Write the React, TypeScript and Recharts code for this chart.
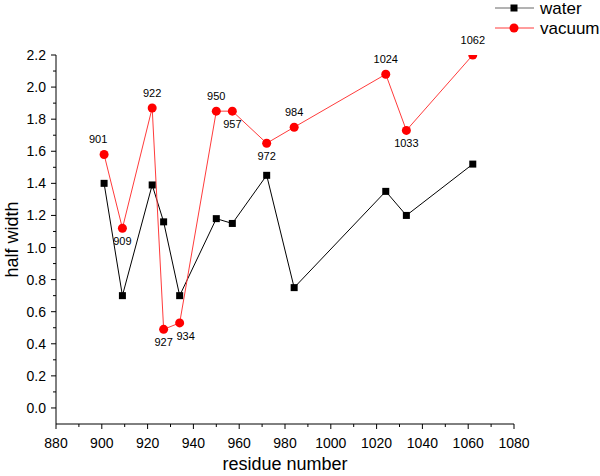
import { LabelList, Line, LineChart, XAxis, YAxis } from "recharts";

const residues = [901, 909, 922, 927, 934, 950, 957, 972, 984, 1024, 1033, 1062];
const water = [1.4, 0.7, 1.39, 1.16, 0.7, 1.18, 1.15, 1.45, 0.75, 1.35, 1.2, 1.52];
const vacuum = [1.58, 1.12, 1.87, 0.49, 0.53, 1.85, 1.85, 1.65, 1.75, 2.08, 1.73, 2.2];
// residues whose vacuum label sits under the point
const labelBelow = [909, 927, 934, 957, 972, 1033];
// small sideways nudges so neighbouring labels don't collide
const labelNudge: Record<number, number> = { 901: -6, 934: 6 };

const xMajor = [880, 900, 920, 940, 960, 980, 1000, 1020, 1040, 1060, 1080];
const xMinor = [890, 910, 930, 950, 970, 990, 1010, 1030, 1050, 1070];
const yMajor = [0, 0.2, 0.4, 0.6, 0.8, 1.0, 1.2, 1.4, 1.6, 1.8, 2.0, 2.2];
const yMinor = [0.1, 0.3, 0.5, 0.7, 0.9, 1.1, 1.3, 1.5, 1.7, 1.9, 2.1];

const FONT = '"Liberation Sans", Arial, Helvetica, sans-serif';
const RED = "#ff0000";

const data = residues.map((r, i) => ({ residue: r, water: water[i], vacuum: vacuum[i] }));

function XTick({ x, y, payload }: any) {
  const major = xMajor.includes(payload.value);
  return (
    <g>
      <line x1={x} x2={x} y1={y} y2={y + (major ? 5 : 3)} stroke="#000" />
      {major && (
        <text x={x} y={y + 24} textAnchor="middle" fontSize={14} fontFamily={FONT} fill="#000">
          {payload.value}
        </text>
      )}
    </g>
  );
}

function YTick({ x, y, payload }: any) {
  const major = yMajor.some((v) => Math.abs(v - payload.value) < 1e-6);
  return (
    <g>
      <line x1={x - (major ? 5 : 3)} x2={x} y1={y} y2={y} stroke="#000" />
      {major && (
        <text x={x - 10} y={y + 5} textAnchor="end" fontSize={14} fontFamily={FONT} fill="#000">
          {payload.value.toFixed(1)}
        </text>
      )}
    </g>
  );
}

function SquareDot({ cx, cy }: any) {
  if (cx == null || cy == null) return null;
  return <rect x={cx - 3.5} y={cy - 3.5} width={7} height={7} fill="#000" />;
}

function ResidueLabel({ x, y, value }: any) {
  const below = labelBelow.includes(value);
  return (
    <text
      x={x + (labelNudge[value] ?? 0)}
      y={below ? y + 17 : y - 11}
      textAnchor="middle"
      fontSize={11}
      fontFamily={FONT}
      fill="#000"
    >
      {value}
    </text>
  );
}

export default function App() {
  return (
    <div style={{ position: "absolute", left: 0, top: 0, width: 600, height: 476, background: "#fff" }}>
      <LineChart width={600} height={476} data={data} margin={{ top: 55, right: 86, bottom: 0, left: 0 }}>
        <XAxis
          dataKey="residue"
          type="number"
          domain={[880, 1080]}
          ticks={[...xMajor, ...xMinor].sort((a, b) => a - b)}
          interval={0}
          height={52}
          tickSize={0}
          tickMargin={0}
          tickLine={false}
          tick={<XTick />}
          axisLine={{ stroke: "#000" }}
          label={({ viewBox }: any) => (
            <text
              x={viewBox.x + viewBox.width / 2}
              y={470}
              textAnchor="middle"
              fontSize={18}
              fontFamily={FONT}
              fill="#000"
            >
              residue number
            </text>
          )}
        />
        <YAxis
          type="number"
          domain={[-0.1, 2.2]}
          allowDataOverflow
          ticks={[...yMajor, ...yMinor].sort((a, b) => a - b)}
          interval={0}
          width={56}
          tickSize={0}
          tickMargin={0}
          tickLine={false}
          tick={<YTick />}
          axisLine={{ stroke: "#000" }}
          label={({ viewBox }: any) => {
            const cy = viewBox.y + viewBox.height / 2;
            return (
              <text
                x={12}
                y={cy}
                transform={`rotate(-90 12 ${cy})`}
                textAnchor="middle"
                dominantBaseline="central"
                fontSize={18}
                fontFamily={FONT}
                fill="#000"
              >
                half width
              </text>
            );
          }}
        />
        <Line
          dataKey="water"
          stroke="#000"
          strokeWidth={1}
          dot={<SquareDot />}
          activeDot={false}
          isAnimationActive={false}
        />
        <Line
          dataKey="vacuum"
          stroke="#ff3b3b"
          strokeWidth={1}
          dot={{ r: 4.5, fill: RED, stroke: RED, strokeWidth: 0 }}
          activeDot={false}
          isAnimationActive={false}
        >
          <LabelList dataKey="residue" content={<ResidueLabel />} />
        </Line>
      </LineChart>
      {/* legend, top right */}
      <svg width={600} height={40} style={{ position: "absolute", left: 0, top: 0 }}>
        <line x1={495} x2={534} y1={8} y2={8} stroke="#666" />
        <rect x={510.5} y={4.5} width={7} height={7} fill="#000" />
        <text x={540} y={14} fontSize={17} fontFamily={FONT} fill="#000">
          water
        </text>
        <line x1={495} x2={534} y1={28} y2={28} stroke="#ff3b3b" />
        <circle cx={514} cy={28} r={4.5} fill={RED} />
        <text x={540} y={34} fontSize={17} fontFamily={FONT} fill="#000">
          vacuum
        </text>
      </svg>
    </div>
  );
}
